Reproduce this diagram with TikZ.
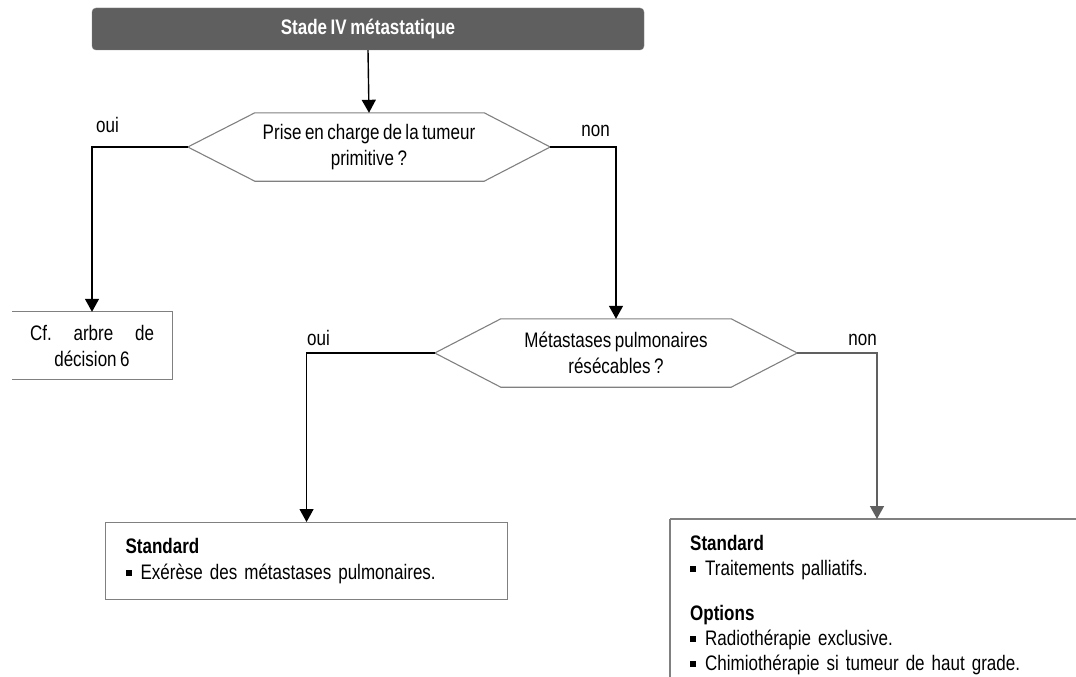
\documentclass[tikz,border=0pt]{standalone}
\usepackage{fontspec}
\setmainfont{Liberation Sans}[FakeStretch=0.81, WordSpace=0.75]
\usetikzlibrary{arrows.meta}

\definecolor{titlegray}{HTML}{5F5F5F}
\definecolor{bordergray}{HTML}{808080}
\definecolor{arrowgray}{HTML}{606060}

\newcommand{\puce}{\makebox[15pt][l]{\rule[3pt]{6pt}{6pt}}}

\tikzset{
  every node/.style={font=\fontsize{21}{26}\selectfont},
  titlebox/.style={fill=titlegray, draw=bordergray, rounded corners=4pt, text=white,
    font=\fontsize{21}{26}\selectfont\bfseries, minimum width=552pt, minimum height=42pt},
  question/.style={align=center, minimum width=362pt, minimum height=68pt, inner sep=0pt},
  hexa/.style={draw=bordergray, line width=1.1pt},
  resultbox/.style={align=left, anchor=north west, inner xsep=20pt, inner ysep=11pt},
  frame/.style={bordergray, line width=1.1pt},
  link/.style={line width=1.4pt, -{Triangle[width=14pt,length=13pt]}},
  answer/.style={inner sep=0pt}
}

\begin{document}
\begin{tikzpicture}[x=1pt, y=-1pt]
\useasboundingbox (0,0) rectangle (1076,677);
\clip (0,0) rectangle (1076,677);

% Title
\node[titlebox] (stade) at (368,29) {Stade IV métastatique};

% Questions
\node[question] (q1) at (369,147) {Prise en charge de la tumeur\\primitive ?};
\draw[hexa] (q1.west) -- ([xshift=67pt]q1.north west) -- ([xshift=-66pt]q1.north east)
  -- (q1.east) -- ([xshift=-66pt]q1.south east) -- ([xshift=67pt]q1.south west) -- cycle;

\node[question] (q2) at (616,353) {Métastases pulmonaires\\résécables ?};
\draw[hexa] (q2.west) -- ([xshift=66pt]q2.north west) -- ([xshift=-66pt]q2.north east)
  -- (q2.east) -- ([xshift=-66pt]q2.south east) -- ([xshift=66pt]q2.south west) -- cycle;

% Results
\node[align=center, minimum width=160pt, minimum height=67pt, inner sep=0pt] (cf) at (92,345.5)
  {\makebox[124pt]{Cf.\hfill arbre\hfill de}\\décision 6};
\draw[frame] (cf.north west) -- (cf.north east) -- (cf.south east) -- (cf.south west);

\node[resultbox, draw=bordergray, line width=1.1pt, minimum width=402pt, minimum height=77pt,
  text width=362pt] (b1) at (105,522)
  {\textbf{Standard}\\\puce Exérèse des métastases pulmonaires.};

\node[resultbox, inner ysep=16pt, text width=400pt, font=\fontsize{21}{25}\selectfont] (b2) at (670,519)
  {\textbf{Standard}\\\puce Traitements palliatifs.\\[20pt]
   \textbf{Options}\\\puce Radiothérapie exclusive.\\\puce Chimiothérapie si tumeur de haut grade.};
\draw[frame] (b2.north west) -- ++(420,0);
\draw[frame] (b2.north west) -- ++(0,200);

% Connectors
\draw[link] (stade.south) -- (q1.north);
\draw[link] (q1.west) -| (cf.north);
\draw[link] (q1.east) -| (q2.north);
\draw[link] (q2.west) -| (b1.north);
\draw[link, arrowgray] (q2.east) -| ([xshift=207pt]b2.north west);

% Labels
\node[answer, anchor=base west] (oui1) at (96,132) {oui};
\node[answer, anchor=base east] (non1) at (610,136) {non};
\node[answer, anchor=base west] (oui2) at (307,345) {oui};
\node[answer, anchor=base east] (non2) at (877,345) {non};

\end{tikzpicture}
\end{document}
